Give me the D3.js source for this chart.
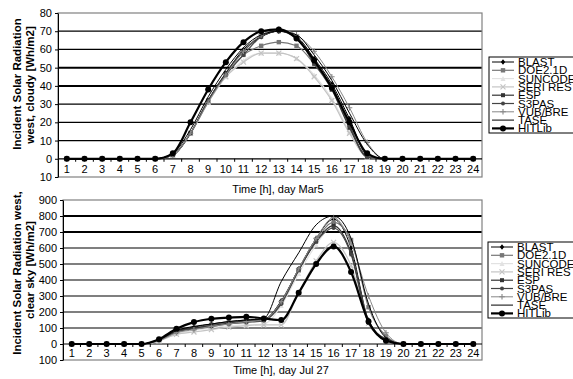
<!DOCTYPE html>
<html>
<head>
<meta charset="utf-8">
<script src="https://cdn.jsdelivr.net/npm/d3@7"></script>
<style>
  body { margin: 0; background: #fff; }
  svg, svg text { font-family: "Liberation Sans", Arial, sans-serif; }
</style>
</head>
<body>
<svg id="chart" width="573" height="379"></svg>
<script>
const hours = d3.range(1, 25);
const seriesNames = ["BLAST", "DOE2.1D", "SUNCODE", "SERI RES", "ESP", "S3PAS", "VUB/BRE", "TASE", "HITLib"];

// cloudy day, Mar 5
const marBLAST   = [0,0,0,0,0,0,2,14,32,47,60,67,70,67,55,41,22,2,0,0,0,0,0,0];
const marDOE     = [0,0,0,0,0,0,2,14,31,46,57,62,64,62,52,38,18,1,0,0,0,0,0,0];
const marSUNCODE = [0,0,0,0,0,0,2,14,31,45,54,58,58,55,46,33,15,1,0,0,0,0,0,0];
const marSERI    = [0,0,0,0,0,0,2,14,31,45,53,58,58,55,45,32,14,1,0,0,0,0,0,0];
const marESP     = [0,0,0,0,0,0,2,14,32,47,59,67,70,66,53,38,17,1,0,0,0,0,0,0];
const marS3PAS   = [0,0,0,0,0,0,2,14,32,46,57,67,70,67,52,40,18,1,0,0,0,0,0,0];
const marVUB     = [0,0,0,0,0,0,2,14,31,46,59,68,71,68,59,45,28,9,0,0,0,0,0,0];
const marTASE    = [0,0,0,0,0,0,3,16,34,49,61,68,70,68,57,43,25,8,0,0,0,0,0,0];
const marHITLib  = [0,0,0,0,0,0,3,20,38,53,64,70,71,66,54,39,20,3,0,0,0,0,0,0];

// clear sky day, Jul 27
const julBLAST   = [0,0,0,0,0,25,80,105,125,140,150,155,270,470,660,780,600,150,30,0,0,0,0,0];
const julDOE     = [0,0,0,0,0,25,75,100,120,135,145,150,260,460,650,760,650,230,50,0,0,0,0,0];
const julSUNCODE = [0,0,0,0,0,20,65,85,100,115,120,125,240,440,620,740,560,140,30,0,0,0,0,0];
const julSERI    = [0,0,0,0,0,20,60,75,90,105,115,120,120,320,520,635,490,130,30,0,0,0,0,0];
const julESP     = [0,0,0,0,0,25,80,100,115,130,145,150,260,465,640,740,570,140,30,0,0,0,0,0];
const julS3PAS   = [0,0,0,0,0,25,75,95,110,125,135,145,250,460,640,725,560,130,25,0,0,0,0,0];
const julVUB     = [0,0,0,0,0,20,70,90,110,125,140,150,265,470,660,790,630,300,70,0,0,0,0,0];
const julTASE    = [0,0,0,0,0,30,85,110,125,140,150,160,390,570,745,800,660,250,40,0,0,0,0,0];
const julHITLib  = [0,0,0,0,0,30,95,137,158,165,170,160,150,320,500,610,450,140,20,0,0,0,0,0];

const marTicks = [-10, 0, 10, 20, 30, 40, 50, 60, 70, 80];
const julTicks = [-100, 0, 100, 200, 300, 400, 500, 600, 700, 800, 900];

const FONT = "Liberation Sans, Arial, sans-serif";

// look of each series (same order as seriesNames)
const styles = [
  { color: "#000",    width: 1,   marker: "diamond", size: 2.2 },
  { color: "#777",    width: 1.2, marker: "square",  size: 2.2 },
  { color: "#e2e2e2", width: 1.2, marker: "triangle", size: 2.5 },
  { color: "#c4c4c4", width: 1.2, marker: "cross",   size: 2.5 },
  { color: "#333",    width: 1.2, marker: "square",  size: 2 },
  { color: "#444",    width: 1.2, marker: "circle",  size: 2 },
  { color: "#888",    width: 1,   marker: "plus",    size: 2.8 },
  { color: "#000",    width: 1,   marker: "none",    size: 0 },
  { color: "#000",    width: 2.2, marker: "circle",  size: 3 }
];

const svg = d3.select("#chart");

function drawMarker(g, type, cx, cy, s, color) {
  if (type === "none") return;
  if (type === "circle") {
    g.append("circle").attr("cx", cx).attr("cy", cy).attr("r", s).attr("fill", color);
  } else if (type === "square") {
    g.append("rect").attr("x", cx - s).attr("y", cy - s).attr("width", 2 * s).attr("height", 2 * s).attr("fill", color);
  } else if (type === "diamond") {
    g.append("path").attr("d", `M${cx},${cy - s - 0.5}L${cx + s},${cy}L${cx},${cy + s + 0.5}L${cx - s},${cy}Z`).attr("fill", color);
  } else if (type === "triangle") {
    g.append("path").attr("d", `M${cx},${cy - s}L${cx + s},${cy + s}L${cx - s},${cy + s}Z`).attr("fill", color);
  } else if (type === "cross") {
    g.append("path").attr("d", `M${cx - s},${cy - s}L${cx + s},${cy + s}M${cx - s},${cy + s}L${cx + s},${cy - s}`)
      .attr("stroke", color).attr("stroke-width", 1.2);
  } else if (type === "plus") {
    g.append("path").attr("d", `M${cx - s},${cy}L${cx + s},${cy}M${cx},${cy - s}L${cx},${cy + s}`)
      .attr("stroke", color).attr("stroke-width", 1.1);
  }
}

function drawPanel(cfg) {
  const x = d3.scaleBand().domain(hours).range([cfg.left, cfg.right]).paddingInner(0);
  const y = d3.scaleLinear().domain(cfg.domain).range([cfg.bottom, cfg.top]);
  const g = svg.append("g");

  // gridlines
  g.selectAll(".grid").data(cfg.ticks.filter(t => t > 0 && t < cfg.domain[1]))
    .enter().append("line")
    .attr("x1", cfg.left).attr("x2", cfg.right)
    .attr("y1", d => y(d)).attr("y2", d => y(d))
    .attr("stroke", "#000")
    .attr("stroke-width", d => cfg.thick.includes(d) ? 2 : 1.2);

  // plot border
  g.append("rect").attr("x", cfg.left).attr("y", cfg.top)
    .attr("width", cfg.right - cfg.left).attr("height", cfg.bottom - cfg.top)
    .attr("fill", "none").attr("stroke", "#808080").attr("stroke-width", 1.2);

  // zero line
  g.append("line").attr("x1", cfg.left).attr("x2", cfg.right)
    .attr("y1", y(0)).attr("y2", y(0)).attr("stroke", "#000").attr("stroke-width", 1.2);

  // y axis
  const ya = g.append("g").attr("transform", `translate(${cfg.left},0)`)
    .call(d3.axisLeft(y).tickValues(cfg.ticks).tickFormat(d => Math.abs(d)).tickSize(3).tickSizeOuter(0))
    .attr("font-family", FONT).attr("font-size", 11);
  ya.select(".domain").attr("stroke", "#000");
  ya.selectAll("text").attr("fill", "#000");

  // x axis labels sit below the zero line
  const xa = g.append("g").attr("transform", `translate(0,${y(0)})`)
    .call(d3.axisBottom(x).tickSize(0).tickPadding(cfg.labelPad))
    .attr("font-family", FONT).attr("font-size", 11);
  xa.select(".domain").remove();
  xa.selectAll("text").attr("fill", "#000");
  g.selectAll(".xt").data(hours.slice(1)).enter().append("line")
    .attr("x1", d => x(d)).attr("x2", d => x(d))
    .attr("y1", y(0)).attr("y2", y(0) + 3)
    .attr("stroke", "#000");

  // series
  const line = d3.line().x((d, i) => x(hours[i]) + x.bandwidth() / 2).y(d => y(d)).curve(d3.curveMonotoneX);
  cfg.series.forEach((vals, k) => {
    const st = styles[k];
    g.append("path").datum(vals).attr("d", line)
      .attr("fill", "none").attr("stroke", st.color).attr("stroke-width", st.width);
    const mg = g.append("g");
    vals.forEach((v, i) => drawMarker(mg, st.marker, x(hours[i]) + x.bandwidth() / 2, y(v), st.size, st.color));
  });

  // y title
  cfg.ytitle.forEach((t, i) => {
    g.append("text")
      .attr("transform", `translate(${cfg.ytitleX[i]},${cfg.ytitleY[i]}) rotate(-90)`)
      .attr("text-anchor", "middle").attr("font-size", 11.5).attr("font-weight", "bold")
      .attr("font-family", FONT)
      .text(t);
  });

  // x title
  g.append("text").attr("x", cfg.xtitlePos[0]).attr("y", cfg.xtitlePos[1])
    .attr("text-anchor", "middle").attr("font-size", 11).attr("font-family", FONT).text(cfg.xtitle);

  // legend
  const lg = g.append("g");
  lg.append("rect").attr("x", cfg.legend[0]).attr("y", cfg.legend[1])
    .attr("width", 100).attr("height", 76)
    .attr("fill", "#fff").attr("stroke", "#000").attr("stroke-width", 1);
  seriesNames.forEach((name, k) => {
    const st = styles[k];
    const ly = cfg.legend[1] + 5 + k * 8.3;
    const lx = cfg.legend[0] + 3;
    lg.append("line").attr("x1", lx).attr("x2", lx + 22).attr("y1", ly).attr("y2", ly)
      .attr("stroke", st.color).attr("stroke-width", st.width);
    drawMarker(lg, st.marker, lx + 11, ly, st.size, st.color);
    lg.append("text").attr("x", lx + 26).attr("y", ly + 4)
      .attr("font-size", 11.5).attr("font-family", FONT).text(name);
  });
}

drawPanel({
  left: 58, right: 482, top: 13, bottom: 177,
  domain: [-10, 80], ticks: marTicks, thick: [40, 50],
  labelPad: 6,
  series: [marBLAST, marDOE, marSUNCODE, marSERI, marESP, marS3PAS, marVUB, marTASE, marHITLib],
  ytitle: ["Incident Solar Radiation", "west, cloudy [Wh/m2]"],
  ytitleX: [21, 34], ytitleY: [84, 85],
  xtitle: "Time [h], day Mar5", xtitlePos: [278, 193],
  legend: [489, 57]
});

drawPanel({
  left: 63, right: 482, top: 200, bottom: 360,
  domain: [-100, 900], ticks: julTicks, thick: [700, 800],
  labelPad: 5,
  series: [julBLAST, julDOE, julSUNCODE, julSERI, julESP, julS3PAS, julVUB, julTASE, julHITLib],
  ytitle: ["Incident Solar Radiation west,", "clear sky [Wh/m2]"],
  ytitleX: [21, 34], ytitleY: [273, 270],
  xtitle: "Time [h], day Jul 27", xtitlePos: [281, 374],
  legend: [488, 242]
});
</script>
</body>
</html>
